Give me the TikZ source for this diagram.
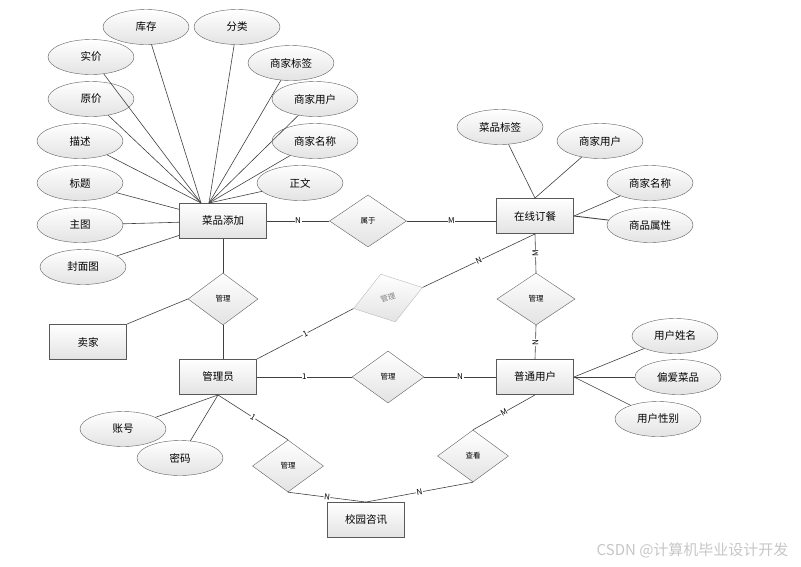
\documentclass[tikz,border=0pt]{standalone}
\usepackage{fontspec}
\setmainfont{Noto Sans CJK SC}
\usetikzlibrary{shapes.geometric}

\tikzset{%
  attr/.style={ellipse, draw=gray!75!black, top color=white, bottom color=gray!22, minimum width=86pt, minimum height=35pt, inner sep=0pt, font=\fontsize{10.5}{12}\selectfont},%
  entity/.style={rectangle, draw=gray!70!black, line width=0.9pt, top color=white, bottom color=gray!22, minimum width=77pt, minimum height=35pt, inner sep=0pt, font=\fontsize{10.5}{12}\selectfont},%
  rel/.style={diamond, draw=gray!75!black, top color=white, bottom color=gray!22, minimum width=72pt, minimum height=52pt, inner sep=0pt, font=\fontsize{7.5}{9}\selectfont},%
  link/.style={draw=black!75, line width=0.6pt},%
  card/.style={fill=white, inner sep=0.5pt, font=\fontsize{8}{9}\selectfont},%
}

\begin{document}
\begin{tikzpicture}[x=1pt, y=-1pt]%
\useasboundingbox (0,0) rectangle (801,566);%
% entities
\node[entity, minimum width=87pt] (dish) at (223,221) {菜品添加};%
\node[entity] (order) at (535,216) {在线订餐};%
\node[entity] (seller) at (88,342) {卖家};%
\node[entity] (admin) at (218,377) {管理员};%
\node[entity] (user) at (535,377) {普通用户};%
\node[entity] (news) at (366,520) {校园咨讯};%
% relations
\node[rel, minimum width=77pt] (belong) at (368,221) {属于};%
\node[rel, minimum width=70pt] (mgrseller) at (223,299) {管理};%
\node[rel, draw=gray!55, text=gray, minimum height=50pt, rotate=17] (mgrorder) at (388,298) {管理};%
\node[rel, minimum width=78pt] (mgruser) at (536,299) {管理};%
\node[rel] (mgrmid) at (388,377) {管理};%
\node[rel, minimum width=71pt] (mgrnews) at (288,466) {管理};%
\node[rel, minimum width=71pt] (view) at (473,456) {查看};%
% attributes of dish
\node[attr] (stock) at (146,27) {库存};%
\node[attr] (cat) at (237,27) {分类};%
\node[attr] (realp) at (91,57) {实价};%
\node[attr] (origp) at (91,99) {原价};%
\node[attr] (desc) at (80,141) {描述};%
\node[attr] (title) at (80,183) {标题};%
\node[attr] (mainimg) at (80,225) {主图};%
\node[attr] (cover) at (83,267) {封面图};%
\node[attr] (mtag) at (291,63) {商家标签};%
\node[attr] (muser) at (315,99) {商家用户};%
\node[attr] (mname) at (315,141) {商家名称};%
\node[attr] (body) at (300,183) {正文};%
% attributes of order
\node[attr] (dtag) at (500,127) {菜品标签};%
\node[attr] (ouser) at (600,141) {商家用户};%
\node[attr] (oname) at (650,183) {商家名称};%
\node[attr] (oattr) at (650,225) {商品属性};%
% attributes of user
\node[attr] (uname) at (675,336) {用户姓名};%
\node[attr] (ufav) at (678,377) {偏爱菜品};%
\node[attr] (usex) at (658,419) {用户性别};%
% attributes of admin
\node[attr] (acct) at (123,429) {账号};%
\node[attr] (pwd) at (180,458) {密码};%
% attribute links
\coordinate (dtl) at (201,203);%
\coordinate (dtr) at (209,203);%
\draw[link] (stock) -- (dtl);%
\draw[link] (realp) -- (dtl);%
\draw[link] (origp) -- (dtl);%
\draw[link] (desc) -- (dtl);%
\draw[link] (title) -- (dish);%
\draw[link] (mainimg) -- (dish);%
\draw[link] (cover) -- (dish);%
\draw[link] (cat) -- (dtr);%
\draw[link] (mtag) -- (dtr);%
\draw[link] (muser) -- (dtr);%
\draw[link] (mname) -- (dtr);%
\draw[link] (body) -- (dtr);%
\draw[link] (dtag) -- (order.north);%
\draw[link] (ouser) -- (order.north);%
\draw[link] (oname) -- (order.east);%
\draw[link, line width=0.9pt] (oattr) -- (order.east);%
\draw[link] (uname) -- (user.east);%
\draw[link] (ufav) -- (user.east);%
\draw[link] (usex) -- (user.east);%
\draw[link] (acct) -- (admin.south);%
\draw[link] (pwd) -- (admin.south);%
% relation links
\draw[link] (dish) -- node[card] {N} (belong);%
\draw[link] (belong.east) -- node[card] {M} (belong.east -| order.west);%
\draw[link] (dish.south -| mgrseller.north) -- (mgrseller.north);%
\draw[link] (mgrseller.south) -- (mgrseller.south |- admin.north);%
\draw[link] (seller.north east) -- (mgrseller.west);%
\draw[link] (admin.north east) -- node[card, sloped] {1} (mgrorder.west);%
\draw[link] (mgrorder.east) -- node[card, sloped] {N} (order.south);%
\draw[link] (order.south) -- node[card, rotate=90] {M} (mgruser.north);%
\draw[link] (mgruser.south) -- node[card, rotate=90] {N} (user.north);%
\draw[link] (admin) -- node[card] {1} (mgrmid);%
\draw[link] (mgrmid) -- node[card] {N} (user);%
\draw[link] (admin.south) -- node[card, sloped] {1} (mgrnews.north);%
\draw[link] (mgrnews.south) -- node[card, sloped] {N} (news.north);%
\draw[link] (user.south) -- node[card, sloped] {M} (view.north);%
\draw[link] (view.south) -- node[card, sloped] {N} (news.north);%
% watermark
\node[anchor=east, text=gray!45, font=\fontsize{15}{16}\selectfont] (mark) at (792,550) {CSDN @计算机毕业设计开发};%
\end{tikzpicture}
\end{document}
